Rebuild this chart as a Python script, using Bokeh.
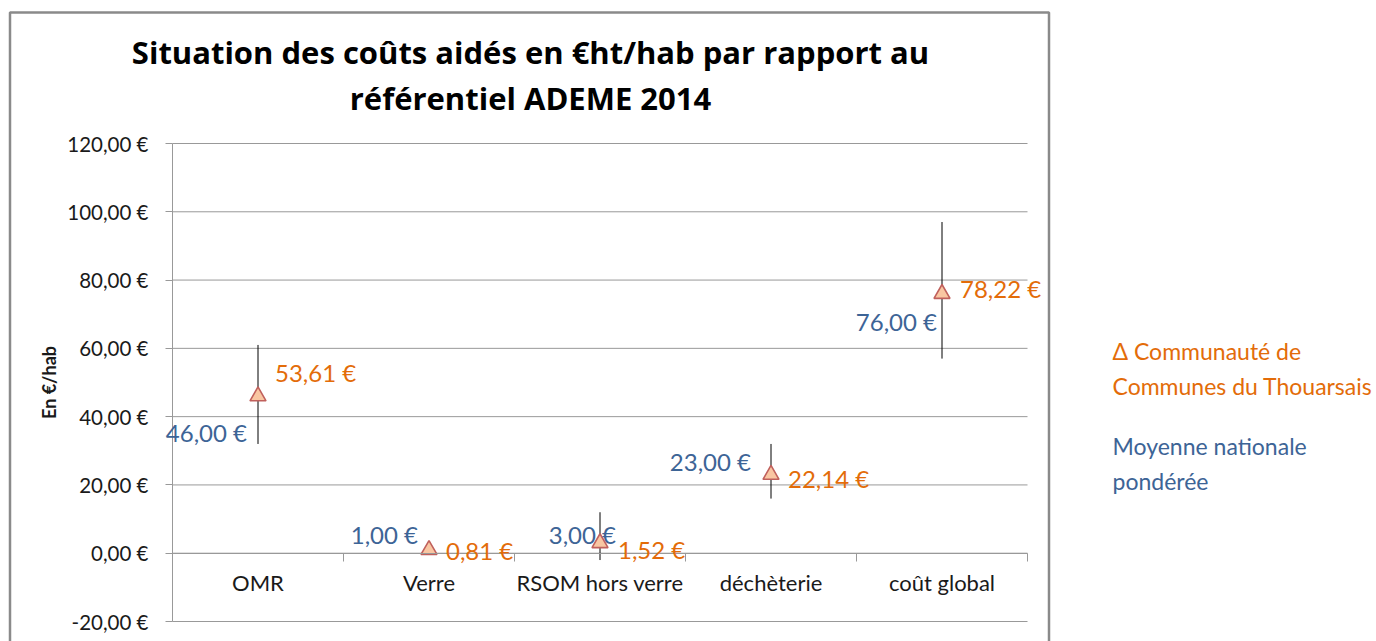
import math
from bokeh.plotting import figure
from bokeh.models import (Range1d, FixedTicker, CustomJSTickFormatter,
                          ColumnDataSource, Label, LabelSet, BoxAnnotation)
from bokeh.embed import file_html
from bokeh.resources import INLINE
from bokeh.core.properties import value

# ---- data ----
categories = ["OMR", "Verre", "RSOM hors verre", "déchèterie", "coût global"]
moyenne_nationale = [46.00, 1.00, 3.00, 23.00, 76.00]
thouarsais = [53.61, 0.81, 1.52, 22.14, 78.22]
range_high = [61.0, float("nan"), 12.0, 32.0, 97.0]
range_low = [32.0, float("nan"), -2.0, 16.0, 57.0]
y_ticks = [-20, 0, 20, 40, 60, 80, 100, 120]

title_lines = ["Situation des coûts aidés en €ht/hab par rapport au",
               "référentiel ADEME 2014"]
legend_cc = ["\u0394 Communauté de", "Communes du Thouarsais"]
legend_nat = ["Moyenne nationale", "pondérée"]

# ---- label placement (screen px offsets from the marker) ----
nat_dx = [-11, -11, 16, -20, -5]
nat_dy = [-36, 15, 8, 13, -28]
cc_dx = [17, 17, 18, 17, 18]
cc_dy = [24, -1, -7, -4, 5]

FONT = "Lato"
TITLE_FONT = "Open Sans"
BLUE = "#3d6496"
ORANGE = "#e36c09"
GRID = "#999999"
TXT = "#1a1a1a"

# ---- canvas geometry: the plotting frame covers the whole canvas ----
W, H = 1376, 641
PLOT_L, PLOT_R, PLOT_T, PLOT_B = 172, 1027, 143, 621   # px of the value area
YMIN, YMAX = -20, 120
NCAT = len(categories)
xpx = (PLOT_R - PLOT_L) / NCAT
ypx = (PLOT_B - PLOT_T) / (YMAX - YMIN)


def px2x(px):
    return (px - PLOT_L) / xpx


def px2y(py):
    return YMAX - (py - PLOT_T) / ypx


def eur(v):
    return f"{v:.2f}".replace(".", ",") + " €"


src = ColumnDataSource(dict(
    x=[i + 0.5 for i in range(NCAT)], cat=categories,
    nat=moyenne_nationale, cc=thouarsais, hi=range_high, lo=range_low,
    nat_lbl=[eur(v) for v in moyenne_nationale],
    cc_lbl=[eur(v) for v in thouarsais],
    nat_dx=nat_dx, nat_dy=nat_dy, cc_dx=cc_dx, cc_dy=cc_dy,
))
grid_src = ColumnDataSource(dict(y=y_ticks, x0=[0] * len(y_ticks), x1=[NCAT] * len(y_ticks)))

p = figure(x_range=Range1d(px2x(0), px2x(W)), y_range=Range1d(px2y(H), px2y(0)),
           width=W, height=H, output_backend="svg", toolbar_location=None,
           min_border=0)
p.outline_line_color = None
p.background_fill_color = "white"
p.border_fill_color = "white"
p.grid.visible = False

# horizontal gridlines across the category area only
p.segment(x0="x0", y0="y", x1="x1", y1="y", line_color=GRID, line_width=1,
          source=grid_src, level="underlay")

# y axis (value axis) at x = 0
yax = p.yaxis[0]
yax.fixed_location = 0
yax.bounds = (YMIN, YMAX)
yax.ticker = FixedTicker(ticks=y_ticks)
yax.formatter = CustomJSTickFormatter(code="return tick.toFixed(2).replace('.', ',') + ' €';")
yax.axis_line_color = GRID
yax.major_tick_line_color = GRID
yax.major_tick_out = 7
yax.major_tick_in = 0
yax.minor_tick_line_color = None
yax.major_label_standoff = 17
yax.major_label_text_font = FONT
yax.major_label_text_font_size = "20.5px"
yax.major_label_text_color = TXT
yax.axis_label = "En €/hab"
yax.axis_label_text_font = FONT
yax.axis_label_text_font_style = "bold"
yax.axis_label_text_font_size = "18px"
yax.axis_label_text_color = TXT
yax.axis_label_standoff = 4

# category axis at y = 0
xax = p.xaxis[0]
xax.fixed_location = 0
xax.bounds = (0, NCAT)
xax.ticker = FixedTicker(ticks=[i + 0.5 for i in range(NCAT)],
                         minor_ticks=list(range(1, NCAT + 1)))
xax.formatter = CustomJSTickFormatter(args=dict(cats=categories),
                                      code="return cats[Math.floor(tick)];")
xax.axis_line_color = GRID
xax.major_tick_line_color = None
xax.minor_tick_line_color = GRID
xax.minor_tick_out = 8
xax.minor_tick_in = 0
xax.major_label_standoff = 8
xax.major_label_text_font = FONT
xax.major_label_text_font_size = "22px"
xax.major_label_text_color = TXT

# high-low lines
p.segment(x0="x", y0="lo", x1="x", y1="hi", line_color="black", line_width=1, source=src)

# markers
p.scatter(x="x", y="nat", marker="triangle", size=16, fill_color="#f9c6a2",
          line_color="#c0605c", line_width=1.6, source=src)

# data labels
p.add_layout(LabelSet(x="x", y="nat", text="nat_lbl", x_offset="nat_dx", y_offset="nat_dy",
                      text_align="right", text_baseline="middle", text_color=BLUE,
                      text_font=value(FONT), text_font_size="24px", source=src))
p.add_layout(LabelSet(x="x", y="nat", text="cc_lbl", x_offset="cc_dx", y_offset="cc_dy",
                      text_align="left", text_baseline="middle", text_color=ORANGE,
                      text_font=value(FONT), text_font_size="24px", source=src))

# title
for txt, py in zip(title_lines, [51, 97]):
    p.add_layout(Label(x=px2x(530), y=px2y(py), text=txt,
                       text_align="center", text_baseline="middle", text_font=TITLE_FONT,
                       text_font_style="bold", text_font_size="31px", text_color="black"))

# side legend text
for txt, py in zip(legend_cc, [350, 385]):
    p.add_layout(Label(x=px2x(1112), y=px2y(py), text=txt,
                       text_align="left", text_baseline="middle", text_font=FONT,
                       text_font_size="23px", text_color=ORANGE))
for txt, py in zip(legend_nat, [445, 480]):
    p.add_layout(Label(x=px2x(1112), y=px2y(py), text=txt,
                       text_align="left", text_baseline="middle", text_font=FONT,
                       text_font_size="23px", text_color=BLUE))

# chart area frame
p.add_layout(BoxAnnotation(left=px2x(9.5), right=px2x(1048.5), top=px2y(12), bottom=px2y(660),
                           fill_color=None, line_color="#8a8a8a", line_alpha=1.0,
                           line_width=2.5, level="underlay"))

open("out.html", "w").write(file_html(p, INLINE))
